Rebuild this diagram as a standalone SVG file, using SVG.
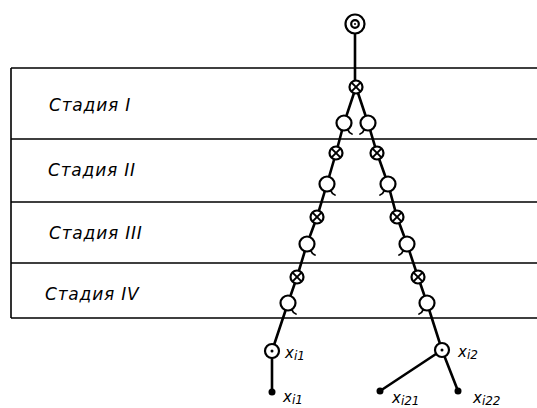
<svg xmlns="http://www.w3.org/2000/svg" width="537" height="408" viewBox="0 0 537 408">
<style>
.bg{fill:#fff}
.grid{stroke:#000;stroke-width:1.6;fill:none}
.con{stroke:#000;stroke-width:2.6;fill:none;stroke-linecap:round}
.node{fill:#fff;stroke:#000;stroke-width:2.2}
.x{stroke:#000;stroke-width:2;fill:none}
.tick{stroke:#000;stroke-width:1.8;fill:none;stroke-linecap:round}
.dot{fill:#000}
.lbl{font-family:"DejaVu Sans","Liberation Sans",sans-serif;font-style:italic;font-size:17px;letter-spacing:0.8px;fill:#000}
.var{font-family:"DejaVu Sans","Liberation Sans",sans-serif;font-style:italic;font-size:15px;fill:#000}
.sub{font-size:12px}
</style>
<defs>
<g id="otimes"><circle class="node" r="6.5"/><path class="x" d="M-4.4,-4.4L4.4,4.4M-4.4,4.4L4.4,-4.4"/></g>
<g id="ocirc"><circle class="node" r="7.5"/></g>
<g id="odot"><circle class="node" r="7"/><circle class="dot" r="1.5"/></g>
</defs>
<rect class="bg" x="0" y="0" width="537" height="408"/>
<g id="stages">
<path class="grid" d="M11,68H537M11,139H537M11,202H537M11,263H537M11,318H537M11,68V318"/>
<text class="lbl" x="49" y="111">Стадия  I</text>
<text class="lbl" x="48" y="176">Стадия  II</text>
<text class="lbl" x="49" y="239">Стадия  III</text>
<text class="lbl" x="45" y="300">Стадия  IV</text>
</g>
<g id="connectors">
<path class="con" d="M355,34V81"/>
<path class="con" d="M356,87L344,123L336,153L327,184L317,217L307,244L297,277L288,303L272,351V392"/>
<path class="con" d="M356,87L368,123L377,153L388,184L397,217L407,244L418,277L427,303L442,350"/>
<path class="con" d="M442,350L380,391M442,350L458,391"/>
</g>
<g id="root"><circle class="node" cx="355" cy="24" r="9.5"/><circle class="node" cx="355" cy="24" r="3.8"/><circle class="dot" cx="355" cy="24" r="1"/></g>
<g id="s0-join"><use href="#otimes" x="356" y="87"/></g>
<g id="L1"><use href="#ocirc" x="344" y="123"/><path class="tick" d="M348,130Q349,133,352,134"/></g>
<g id="R1"><use href="#ocirc" x="368" y="123"/><path class="tick" d="M364,130Q363,133,360,134"/></g>
<g id="L1x"><use href="#otimes" x="336" y="153"/></g>
<g id="R1x"><use href="#otimes" x="377" y="153"/></g>
<g id="L2"><use href="#ocirc" x="327" y="184"/><path class="tick" d="M331,191Q332,194,335,195"/></g>
<g id="R2"><use href="#ocirc" x="388" y="184"/><path class="tick" d="M384,191Q383,194,380,195"/></g>
<g id="L2x"><use href="#otimes" x="317" y="217"/></g>
<g id="R2x"><use href="#otimes" x="397" y="217"/></g>
<g id="L3"><use href="#ocirc" x="307" y="244"/><path class="tick" d="M311,251Q312,254,315,255"/></g>
<g id="R3"><use href="#ocirc" x="407" y="244"/><path class="tick" d="M403,251Q402,254,399,255"/></g>
<g id="L3x"><use href="#otimes" x="297" y="277"/></g>
<g id="R3x"><use href="#otimes" x="418" y="277"/></g>
<g id="L4"><use href="#ocirc" x="288" y="303"/><path class="tick" d="M292,310Q293,313,296,314"/></g>
<g id="R4"><use href="#ocirc" x="427" y="303"/><path class="tick" d="M423,310Q422,313,419,314"/></g>
<g id="xi1"><use href="#odot" x="272" y="351"/><text class="var" x="285" y="358">x<tspan class="sub" dy="2">i1</tspan></text></g>
<g id="xi2"><use href="#odot" x="442" y="350"/><text class="var" x="458" y="357">x<tspan class="sub" dy="2">i2</tspan></text></g>
<g id="xi1-leaf"><circle class="dot" cx="272" cy="392" r="3.5"/><text class="var" x="283" y="402">x<tspan class="sub" dy="2">i1</tspan></text></g>
<g id="xi21"><circle class="dot" cx="380" cy="391" r="3.5"/><text class="var" x="392" y="403">x<tspan class="sub" dy="2">i21</tspan></text></g>
<g id="xi22"><circle class="dot" cx="458" cy="391" r="3.5"/><text class="var" x="473" y="403">x<tspan class="sub" dy="2">i22</tspan></text></g>
</svg>
